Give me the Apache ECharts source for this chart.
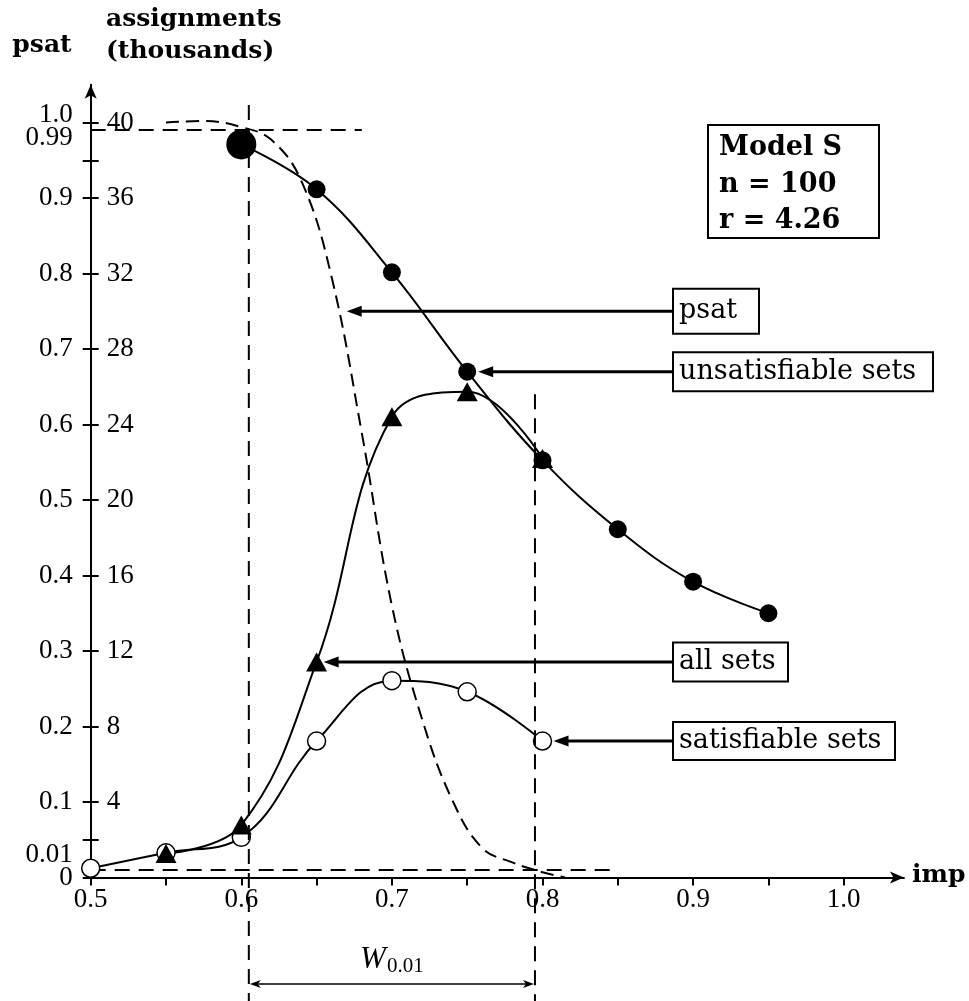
<!DOCTYPE html>
<html><head><meta charset="utf-8">
<script src="https://cdn.jsdelivr.net/npm/echarts@6/dist/echarts.min.js"></script>
<style>html,body{margin:0;padding:0;background:#fff}#c{width:969px;height:1001px}</style>
</head><body><div id="c"></div>
<script>
// ---- data (imp on x; thousands of assignments / psat on y) ----
const unsatImp = [0.6, 0.65, 0.7, 0.75, 0.8, 0.85, 0.9, 0.95];
const unsatSets = [38.84, 36.46, 32.06, 26.80, 22.1, 18.45, 15.67, 14.0];
const allImp = [0.55, 0.6, 0.65, 0.7, 0.75, 0.8];
const allSets = [1.27, 2.78, 11.42, 24.41, 25.74, 22.2];
const satImp = [0.5, 0.55, 0.6, 0.65, 0.7, 0.75, 0.8];
const satSets = [0.49, 1.31, 2.13, 7.23, 10.43, 9.84, 7.23];
const psatImp = [0.55, 0.575, 0.6, 0.62, 0.64, 0.66, 0.68, 0.70, 0.72, 0.74, 0.76, 0.78, 0.80, 0.815];
const psatVal = [1.0, 1.002, 0.994, 0.977, 0.922, 0.795, 0.589, 0.36, 0.21, 0.103, 0.039, 0.020, 0.007, 0.0];
const psatHigh = 0.99, psatLow = 0.01;
const highLineEnd = 0.68, lowLineEnd = 0.85;
const wEdges = [0.605, 0.795];
// ticks / labels
const xTickValues = [0.5, 0.55, 0.6, 0.65, 0.7, 0.75, 0.8, 0.85, 0.9, 0.95, 1.0];
const xLabelValues = [0.5, 0.6, 0.7, 0.8, 0.9, 1.0];
const thousandTicks = [2, 4, 8, 12, 16, 20, 24, 28, 32, 36, 38, 40];
const thousandLabels = [4, 8, 12, 16, 20, 24, 28, 32, 36, 40];
const psatTicks = [0, 0.05, 0.1, 0.2, 0.3, 0.4, 0.5, 0.6, 0.7, 0.8, 0.9, 0.95, 1.0];
const psatLabels = [0, 0.1, 0.2, 0.3, 0.4, 0.5, 0.6, 0.7, 0.8, 0.9];
const psatExtraLabels = ['1.0', '0.99', '0.01'];
const modelLines = ['Model S', 'n = 100', 'r = 4.26'];

const NUM = '"Liberation Serif", serif';
const TXT = '"DejaVu Serif", serif';
const pairs = (xs, ys) => xs.map((x, i) => [x, ys[i]]);

const chart = echarts.init(document.getElementById('c'), null, {renderer: 'canvas'});
const axisLbl = {color: '#000', fontFamily: NUM, fontSize: 27};
chart.setOption({
  animation: false,
  backgroundColor: '#fff',
  grid: {left: 90.7, right: 65.06, top: 84.75, bottom: 123.5, containLabel: false},
  xAxis: {
    type: 'value', min: 0.5, max: 1.04,
    axisLine: {show: true, symbol: ['none', 'arrow'], symbolSize: [9, 14], lineStyle: {color: '#000', width: 2}},
    axisTick: {show: true, customValues: xTickValues, length: 8, lineStyle: {color: '#000', width: 2}},
    axisLabel: Object.assign({customValues: xLabelValues, margin: 9, formatter: v => v.toFixed(1)}, axisLbl),
    splitLine: {show: false}
  },
  yAxis: [
    {
      type: 'value', min: 0, max: 42, position: 'left',
      axisLine: {show: true, onZero: false, symbol: ['none', 'arrow'], symbolSize: [9, 14], lineStyle: {color: '#000', width: 2}},
      axisTick: {show: true, inside: true, customValues: thousandTicks, length: 8, lineStyle: {color: '#000', width: 2}},
      axisLabel: Object.assign({customValues: thousandLabels, inside: true, margin: 16, formatter: v => String(v)}, axisLbl),
      splitLine: {show: false}
    },
    {
      type: 'value', min: 0, max: 1.05, position: 'left',
      axisLine: {show: false},
      axisTick: {show: true, inside: false, customValues: psatTicks, length: 8, lineStyle: {color: '#000', width: 2}},
      axisLabel: Object.assign({customValues: psatLabels, margin: 18, formatter: v => v === 0 ? '0' : v.toFixed(1)}, axisLbl),
      splitLine: {show: false}
    }
  ],
  series: [
    {type: 'line', yAxisIndex: 1, data: [[0.5, psatHigh], [highLineEnd, psatHigh]], symbol: 'none', silent: true,
     lineStyle: {color: '#000', width: 2, type: [15, 9]}},
    {type: 'line', yAxisIndex: 1, data: [[0.5, psatLow], [lowLineEnd, psatLow]], symbol: 'none', silent: true,
     lineStyle: {color: '#000', width: 2, type: [15, 9]}},
    {name: 'psat', type: 'line', yAxisIndex: 1, data: pairs(psatImp, psatVal), symbol: 'none', smooth: 0.4, silent: true,
     lineStyle: {color: '#000', width: 2, type: [13, 7]}},
    {name: 'satisfiable sets', type: 'line', data: pairs(satImp, satSets), smooth: 0.4, symbol: 'circle', symbolSize: 18,
     lineStyle: {color: '#000', width: 2}, itemStyle: {color: '#fff', borderColor: '#000', borderWidth: 1.5}, silent: true},
    {name: 'all sets', type: 'line', data: pairs(allImp, allSets), smooth: 0.4, symbol: 'triangle', symbolSize: [21, 19],
     lineStyle: {color: '#000', width: 2}, itemStyle: {color: '#000'}, silent: true},
    {name: 'unsatisfiable sets', type: 'line', smooth: 0.4, symbol: 'circle', symbolSize: 18,
     data: pairs(unsatImp, unsatSets).map((p, i) => i === 0 ? {value: p, symbolSize: 30} : p),
     lineStyle: {color: '#000', width: 2}, itemStyle: {color: '#000'}, silent: true}
  ]
});

// ---- annotations positioned through the chart's scales ----
const toPx = (p) => chart.convertToPixel({xAxisIndex: 0, yAxisIndex: 0}, p);
const toPxP = (p) => chart.convertToPixel({xAxisIndex: 0, yAxisIndex: 1}, p);
const g = [];
function leftArrow(tipX, y, fromX) {
  const hl = 15, hw = 5.5;
  g.push({type: 'line', shape: {x1: tipX + hl - 2, y1: y, x2: fromX, y2: y}, style: {stroke: '#000', lineWidth: 3}, z: 50});
  g.push({type: 'polygon', shape: {points: [[tipX, y], [tipX + hl, y - hw], [tipX + hl, y + hw]]}, style: {fill: '#000'}, z: 50});
}
function labelBox(x, cy, w, h, text) {
  g.push({type: 'rect', shape: {x: x, y: cy - h / 2, width: w, height: h}, style: {fill: '#fff', stroke: '#000', lineWidth: 2}, z: 50});
  g.push({type: 'text', x: x + 6, y: cy, style: {text: text, font: '27px ' + TXT, fill: '#000', align: 'left', verticalAlign: 'middle'}, z: 51});
}
const boxX = 673;
// psat
let t = toPxP([0.668, 0.75]);
leftArrow(t[0] + 3, t[1], boxX); labelBox(boxX, t[1], 86, 45, 'psat');
// unsatisfiable
t = toPx([0.75, unsatSets[3]]);
leftArrow(t[0] + 11, t[1], boxX); labelBox(boxX, t[1], 260, 39, 'unsatisfiable sets');
// all sets
t = toPx([0.65, allSets[2]]);
leftArrow(t[0] + 7, t[1], boxX); labelBox(boxX, t[1], 115, 39, 'all sets');
// satisfiable
t = toPx([0.8, satSets[6]]);
leftArrow(t[0] + 11, t[1], boxX); labelBox(boxX, t[1], 222, 38, 'satisfiable sets');

// Model S box
g.push({type: 'rect', shape: {x: 708, y: 125, width: 171, height: 113}, style: {fill: '#fff', stroke: '#000', lineWidth: 2}, z: 50});
modelLines.forEach((s, i) => g.push({type: 'text', x: 719, y: 148 + i * 36.5,
  style: {text: s, font: 'bold 27px ' + TXT, fill: '#000', align: 'left', verticalAlign: 'middle'}, z: 51}));

// axis titles
g.push({type: 'text', x: 42, y: 45, style: {text: 'psat', font: 'bold 25px ' + TXT, fill: '#000', align: 'center', verticalAlign: 'middle'}});
g.push({type: 'text', x: 106, y: 19, style: {text: 'assignments', font: 'bold 25px ' + TXT, fill: '#000', align: 'left', verticalAlign: 'middle'}});
g.push({type: 'text', x: 106, y: 51, style: {text: '(thousands)', font: 'bold 25px ' + TXT, fill: '#000', align: 'left', verticalAlign: 'middle'}});
const origin = toPx([0.5, 0]);
const xEnd = toPx([1.04, 0]);
g.push({type: 'text', x: xEnd[0] + 8, y: origin[1] - 2, style: {text: 'imp', font: 'bold 25px ' + TXT, fill: '#000', align: 'left', verticalAlign: 'middle'}});

// extra psat labels
const pAt1 = toPxP([0.5, 1.0]), pAt99 = toPxP([0.5, psatHigh]), pAt01 = toPxP([0.5, psatLow]);
const lblX = origin[0] - 18;
g.push({type: 'text', x: lblX, y: pAt1[1] - 8, style: {text: psatExtraLabels[0], font: '27px ' + NUM, fill: '#000', align: 'right', verticalAlign: 'middle'}});
g.push({type: 'text', x: lblX, y: pAt99[1] + 8, style: {text: psatExtraLabels[1], font: '27px ' + NUM, fill: '#000', align: 'right', verticalAlign: 'middle'}});
g.push({type: 'text', x: lblX, y: pAt01[1] - 15, style: {text: psatExtraLabels[2], font: '27px ' + NUM, fill: '#000', align: 'right', verticalAlign: 'middle'}});

// W_0.01 window
const w0 = toPx([wEdges[0], 0])[0], w1 = toPx([wEdges[1], 0])[0];
const topW1 = toPxP([wEdges[1], 0.64])[1];
g.push({type: 'line', shape: {x1: w0, y1: 105, x2: w0, y2: 1001}, style: {stroke: '#000', lineWidth: 2, lineDash: [15, 9]}, z: 5});
g.push({type: 'line', shape: {x1: w1, y1: topW1, x2: w1, y2: 1001}, style: {stroke: '#000', lineWidth: 2, lineDash: [15, 9]}, z: 5});
const ay = 984;
g.push({type: 'line', shape: {x1: w0 + 4, y1: ay, x2: w1 - 4, y2: ay}, style: {stroke: '#000', lineWidth: 1.5}});
g.push({type: 'polygon', shape: {points: [[w0 + 1, ay], [w0 + 12, ay - 4], [w0 + 9, ay], [w0 + 12, ay + 4]]}, style: {fill: '#000'}});
g.push({type: 'polygon', shape: {points: [[w1 - 1, ay], [w1 - 12, ay - 4], [w1 - 9, ay], [w1 - 12, ay + 4]]}, style: {fill: '#000'}});
g.push({type: 'text', x: (w0 + w1) / 2, y: 960, style: {
  text: '{w|W}{s|0.01}', align: 'center', verticalAlign: 'middle', fill: '#000',
  rich: {w: {font: 'italic 31px ' + NUM, fill: '#000'}, s: {font: '21px ' + NUM, fill: '#000', padding: [12, 0, 0, 1]}}}});

chart.setOption({graphic: g});
</script>
</body></html>
